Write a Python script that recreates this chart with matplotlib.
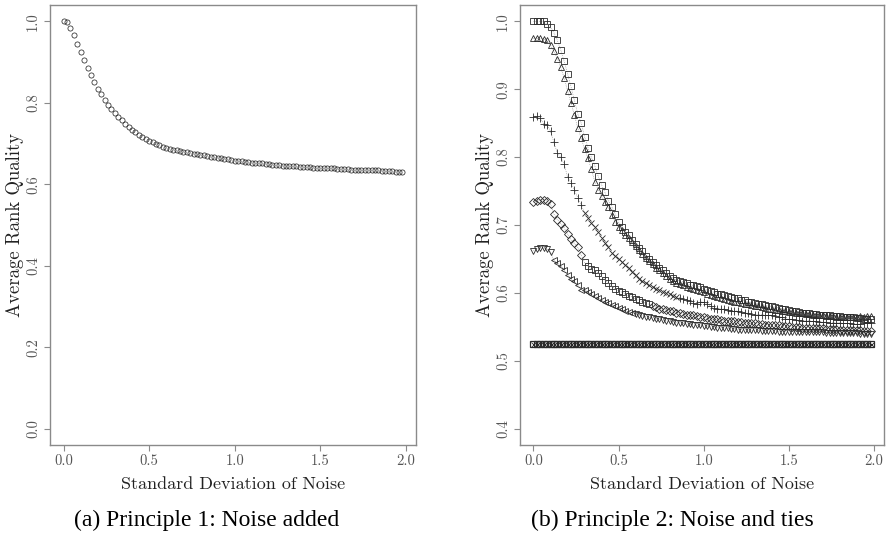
import numpy as np
import matplotlib.pyplot as plt
from matplotlib.ticker import FormatStrFormatter

plt.rcParams['font.family'] = 'cmr10'
plt.rcParams['axes.formatter.use_mathtext'] = True

# noise levels (sd) used in both experiments
noise_sd = np.round(np.arange(0, 2.0, 0.02), 2)

# principle 1: average rank quality with noise added
quality_noise = [
    1.000, 0.998, 0.984, 0.966, 0.945, 0.925, 0.905, 0.886, 0.867, 0.852,
    0.835, 0.821, 0.807, 0.794, 0.784, 0.775, 0.765, 0.757, 0.748, 0.741,
    0.734, 0.728, 0.722, 0.717, 0.712, 0.707, 0.703, 0.699, 0.696, 0.692,
    0.689, 0.687, 0.685, 0.683, 0.681, 0.680, 0.678, 0.677, 0.675, 0.674,
    0.672, 0.671, 0.669, 0.668, 0.667, 0.665, 0.664, 0.663, 0.661, 0.660,
    0.658, 0.657, 0.656, 0.655, 0.654, 0.653, 0.653, 0.652, 0.651, 0.650,
    0.649, 0.648, 0.648, 0.647, 0.646, 0.646, 0.645, 0.645, 0.644, 0.643,
    0.643, 0.642, 0.642, 0.641, 0.641, 0.640, 0.640, 0.639, 0.639, 0.639,
    0.638, 0.638, 0.637, 0.637, 0.636, 0.636, 0.636, 0.635, 0.635, 0.635,
    0.634, 0.634, 0.634, 0.633, 0.633, 0.632, 0.632, 0.631, 0.631, 0.630,
]

# principle 2: noise and ties, one curve per tie level
ties_square = [
    1.000, 1.000, 1.000, 1.000, 0.996, 0.991, 0.983, 0.972, 0.958, 0.941,
    0.923, 0.904, 0.884, 0.864, 0.850, 0.830, 0.814, 0.800, 0.787, 0.772,
    0.759, 0.748, 0.736, 0.727, 0.716, 0.704, 0.697, 0.690, 0.685, 0.678,
    0.672, 0.666, 0.661, 0.655, 0.650, 0.645, 0.641, 0.636, 0.633, 0.629,
    0.625, 0.622, 0.619, 0.618, 0.616, 0.614, 0.612, 0.611, 0.610, 0.609,
    0.606, 0.604, 0.603, 0.601, 0.599, 0.598, 0.597, 0.595, 0.594, 0.593,
    0.592, 0.590, 0.589, 0.587, 0.586, 0.585, 0.584, 0.583, 0.582, 0.581,
    0.580, 0.579, 0.578, 0.577, 0.576, 0.575, 0.574, 0.573, 0.572, 0.571,
    0.571, 0.570, 0.569, 0.569, 0.568, 0.568, 0.567, 0.567, 0.566, 0.566,
    0.566, 0.565, 0.565, 0.564, 0.564, 0.563, 0.563, 0.562, 0.562, 0.561,
]
ties_triangle = [
    0.975, 0.975, 0.975, 0.974, 0.972, 0.965, 0.956, 0.945, 0.932, 0.917,
    0.898, 0.880, 0.862, 0.843, 0.828, 0.812, 0.798, 0.782, 0.764, 0.752,
    0.742, 0.734, 0.726, 0.714, 0.705, 0.697, 0.692, 0.686, 0.681, 0.675,
    0.669, 0.663, 0.657, 0.652, 0.647, 0.642, 0.637, 0.633, 0.629, 0.625,
    0.621, 0.618, 0.615, 0.613, 0.611, 0.609, 0.607, 0.606, 0.604, 0.603,
    0.601, 0.599, 0.597, 0.595, 0.594, 0.592, 0.591, 0.589, 0.588, 0.587,
    0.586, 0.585, 0.584, 0.583, 0.582, 0.581, 0.580, 0.579, 0.578, 0.577,
    0.576, 0.575, 0.575, 0.574, 0.573, 0.572, 0.572, 0.571, 0.570, 0.570,
    0.569, 0.569, 0.568, 0.568, 0.567, 0.567, 0.566, 0.566, 0.566, 0.565,
    0.565, 0.565, 0.564, 0.564, 0.564, 0.565, 0.566, 0.565, 0.566, 0.566,
]
ties_plus = [
    0.859, 0.860, 0.857, 0.849, 0.848, 0.838, 0.822, 0.806, 0.800, 0.790,
    0.771, 0.762, 0.752, 0.740, 0.730, 0.718, 0.711, 0.703, 0.697, 0.690,
    0.681, 0.674, 0.668, 0.659, 0.654, 0.650, 0.646, 0.641, 0.636, 0.631,
    0.626, 0.621, 0.617, 0.614, 0.611, 0.609, 0.606, 0.605, 0.602, 0.600,
    0.598, 0.596, 0.594, 0.593, 0.591, 0.590, 0.588, 0.585, 0.583, 0.587,
    0.586, 0.583, 0.580, 0.578, 0.577, 0.577, 0.576, 0.575, 0.574, 0.574,
    0.573, 0.572, 0.571, 0.570, 0.569, 0.568, 0.568, 0.568, 0.567, 0.567,
    0.567, 0.566, 0.565, 0.564, 0.562, 0.561, 0.561, 0.560, 0.560, 0.559,
    0.559, 0.559, 0.558, 0.558, 0.557, 0.557, 0.557, 0.556, 0.556, 0.556,
    0.556, 0.555, 0.555, 0.555, 0.554, 0.554, 0.554, 0.555, 0.555, 0.555,
]
ties_diamond = [
    0.734, 0.735, 0.737, 0.737, 0.735, 0.731, 0.716, 0.708, 0.702, 0.696,
    0.687, 0.679, 0.673, 0.667, 0.656, 0.645, 0.639, 0.635, 0.633, 0.629,
    0.625, 0.619, 0.615, 0.610, 0.606, 0.603, 0.601, 0.598, 0.596, 0.594,
    0.591, 0.589, 0.587, 0.585, 0.583, 0.581, 0.579, 0.577, 0.576, 0.575,
    0.574, 0.573, 0.571, 0.570, 0.569, 0.568, 0.567, 0.567, 0.566, 0.565,
    0.564, 0.563, 0.562, 0.561, 0.561, 0.560, 0.559, 0.559, 0.558, 0.558,
    0.557, 0.557, 0.556, 0.556, 0.555, 0.555, 0.554, 0.554, 0.553, 0.553,
    0.553, 0.552, 0.552, 0.551, 0.551, 0.551, 0.550, 0.550, 0.550, 0.549,
    0.549, 0.549, 0.548, 0.548, 0.548, 0.548, 0.547, 0.547, 0.547, 0.547,
    0.546, 0.546, 0.546, 0.546, 0.545, 0.545, 0.545, 0.544, 0.544, 0.544,
]
ties_invtri = [
    0.662, 0.665, 0.666, 0.666, 0.664, 0.660, 0.648, 0.644, 0.640, 0.633,
    0.627, 0.620, 0.617, 0.611, 0.605, 0.604, 0.602, 0.598, 0.595, 0.592,
    0.590, 0.587, 0.585, 0.582, 0.580, 0.578, 0.576, 0.574, 0.572, 0.571,
    0.569, 0.567, 0.566, 0.565, 0.564, 0.563, 0.562, 0.561, 0.560, 0.559,
    0.558, 0.557, 0.556, 0.556, 0.555, 0.554, 0.554, 0.553, 0.552, 0.552,
    0.551, 0.551, 0.550, 0.550, 0.549, 0.549, 0.548, 0.548, 0.547, 0.547,
    0.546, 0.546, 0.546, 0.545, 0.545, 0.545, 0.545, 0.544, 0.544, 0.544,
    0.544, 0.544, 0.543, 0.543, 0.543, 0.543, 0.543, 0.543, 0.542, 0.542,
    0.542, 0.542, 0.542, 0.542, 0.542, 0.542, 0.541, 0.541, 0.541, 0.541,
    0.541, 0.541, 0.541, 0.541, 0.541, 0.541, 0.540, 0.540, 0.540, 0.540,
]
ties_all = [0.525] * 100

ink = '#2a2a2a'
frame = '#8a8a8a'
label_col = '#555555'

fig = plt.figure(figsize=(8.86, 5.45), dpi=100)
ax1 = fig.add_axes([50/886, 100/545, 366/886, 440/545])
ax2 = fig.add_axes([520/886, 100/545, 364/886, 440/545])


def style_axes(ax, ylim, yticks):
    ax.set_xlim(-0.0792, 2.0592)
    ax.set_ylim(*ylim)
    ax.set_xticks([0.0, 0.5, 1.0, 1.5, 2.0])
    ax.set_yticks(yticks)
    ax.xaxis.set_major_formatter(FormatStrFormatter('%.1f'))
    ax.yaxis.set_major_formatter(FormatStrFormatter('%.1f'))
    for s in ax.spines.values():
        s.set_color(frame)
        s.set_linewidth(1.0)
    ax.tick_params(direction='out', length=4, width=0.8, color=frame,
                   labelsize=10.5, labelcolor=label_col, pad=3)
    for lab in ax.get_yticklabels():
        lab.set_rotation(90)
        lab.set_va('center')
    ax.set_xlabel('Standard Deviation of Noise', fontsize=13, color='#222222', labelpad=6)
    ax.set_ylabel('Average Rank Quality', fontsize=13.5, color='#222222', labelpad=2)


def pts(ax, x, y, marker, lo=-1.0, hi=3.0, ms=4.4):
    x = np.asarray(x)
    y = np.asarray(y)
    m = (x >= lo) & (x < hi)
    ax.plot(x[m], y[m], linestyle='none', marker=marker, ms=ms, mfc='none',
            mec=ink, mew=0.6)


# (a) noise only
ax1.plot(noise_sd, quality_noise, linestyle='none', marker='o', ms=3.7,
         mfc='none', mec=ink, mew=0.55)
style_axes(ax1, (-0.04, 1.04), [0.0, 0.2, 0.4, 0.6, 0.8, 1.0])

# (b) noise and ties
for vals in [ties_square, ties_triangle, ties_plus, ties_diamond, ties_invtri]:
    ax2.plot(noise_sd, vals, ':', color='#888888', lw=0.5)

pts(ax2, noise_sd, ties_square, 's')
pts(ax2, noise_sd, ties_triangle, '^')
pts(ax2, noise_sd, ties_plus, '+', hi=0.3, ms=5.5)
pts(ax2, noise_sd, ties_plus, 'x', lo=0.3, hi=0.86, ms=4.5)
pts(ax2, noise_sd, ties_plus, '+', lo=0.86, ms=5.5)
pts(ax2, noise_sd, ties_diamond, 'D', hi=0.3, ms=3.9)
pts(ax2, noise_sd, ties_diamond, 's', lo=0.3, hi=0.7)
pts(ax2, noise_sd, ties_diamond, 'D', lo=0.7, ms=3.9)
pts(ax2, noise_sd, ties_invtri, 'v', hi=0.12)
pts(ax2, noise_sd, ties_invtri, '<', lo=0.12, hi=0.6)
pts(ax2, noise_sd, ties_invtri, 'v', lo=0.6)

# all-tied case collapses to one flat band
ax2.plot(noise_sd, ties_all, linestyle='none', marker='s', ms=4.4,
         mfc='none', mec=ink, mew=0.9)
ax2.plot(noise_sd, ties_all, linestyle='none', marker='x', ms=3.6,
         mec=ink, mew=0.6)
style_axes(ax2, (0.376, 1.024), [0.4, 0.5, 0.6, 0.7, 0.8, 0.9, 1.0])

fig.text(207/886, 1 - 520/545, '(a) Principle 1: Noise added',
         family='Liberation Serif', fontsize=17, ha='center', va='center')
fig.text(672/886, 1 - 520/545, '(b) Principle 2: Noise and ties',
         family='Liberation Serif', fontsize=17, ha='center', va='center')

fig.savefig('out.png', dpi=100)
